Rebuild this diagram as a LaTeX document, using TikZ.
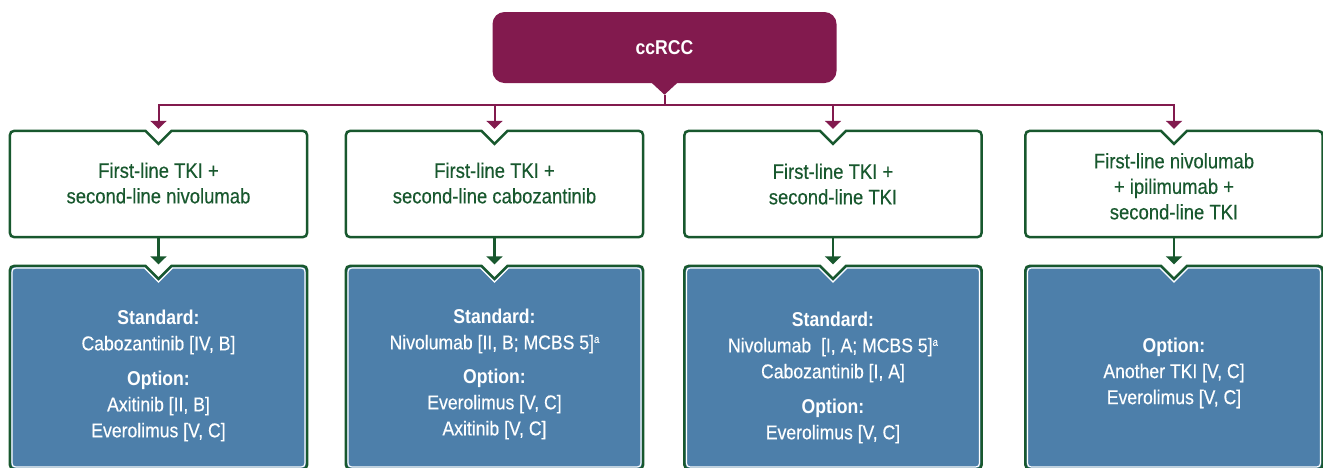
\documentclass[tikz,border=0pt]{standalone}
\usepackage{fontspec}
\setmainfont{Liberation Sans}[FakeStretch=0.88, UprightFeatures={FakeBold=0.35}]
\usetikzlibrary{arrows.meta,calc}
\definecolor{magent}{RGB}{130,26,78}
\definecolor{dgreen}{RGB}{24,88,46}
\definecolor{bfill}{RGB}{77,127,170}

\newcommand\supa{\raisebox{6.5pt}{\fontsize{11}{11}\selectfont a}}

\newcommand\notchbox[4]{%
\draw[#4] let \p1=(#1.north west), \p2=(#1.south east), \p3=(#1.north) in
 ({\x3-(13+0.414*#2)*1pt},{\y1-#2pt})
 -- ({\x1+#2pt+#3pt},{\y1-#2pt})
 .. controls ({\x1+#2pt},{\y1-#2pt}) .. ({\x1+#2pt},{\y1-#2pt-#3pt})
 -- ({\x1+#2pt},{\y2+#2pt+#3pt})
 .. controls ({\x1+#2pt},{\y2+#2pt}) .. ({\x1+#2pt+#3pt},{\y2+#2pt})
 -- ({\x2-#2pt-#3pt},{\y2+#2pt})
 .. controls ({\x2-#2pt},{\y2+#2pt}) .. ({\x2-#2pt},{\y2+#2pt+#3pt})
 -- ({\x2-#2pt},{\y1-#2pt-#3pt})
 .. controls ({\x2-#2pt},{\y1-#2pt}) .. ({\x2-#2pt-#3pt},{\y1-#2pt})
 -- ({\x3+(13+0.414*#2)*1pt},{\y1-#2pt})
 -- (\x3,{\y1-#2pt-(13+0.414*#2)*1pt})
 -- cycle;}

\tikzset{
  rootbox/.style={rectangle, fill=magent, rounded corners=12pt, minimum width=344pt,
    minimum height=71pt, text=white, inner sep=0pt, font=\bfseries\fontsize{20}{24}\selectfont},
  gbox/.style={rectangle, inner sep=0pt, minimum width=297pt, minimum height=106pt},
  bbox/.style={rectangle, inner sep=0pt, minimum width=297pt, minimum height=203pt},
  gline/.style={draw=dgreen, line width=2.5pt, fill=white, line join=miter},
  bline/.style={draw=dgreen, line width=2.5pt, fill=bfill},
  wline/.style={draw=white, line width=1.2pt},
  magarrow/.style={draw=magent, line width=2pt, -{Triangle[width=16pt,length=8pt]}},
  grarrow/.style={draw=dgreen, line width=2.5pt, -{Triangle[width=16pt,length=8pt]}},
  gtext/.style={text=dgreen, align=center, inner sep=0pt, anchor=north,
    font=\fontsize{21}{25.5}\selectfont},
  btext/.style={text=white, align=center, inner sep=0pt, anchor=north,
    font=\fontsize{20}{26}\selectfont},
}

\begin{document}
\begin{tikzpicture}[x=1pt,y=-1pt]
\useasboundingbox (0,0) rectangle (1323,467);

% root
\node[rootbox] (root) at (664.5,47.5) {ccRCC};
\fill[magent] ($(root.south)+(-13.5,-1)$) -- ($(root.south)+(13.5,-1)$) -- ($(root.south)+(0,11.5)$) -- cycle;
\coordinate (tab) at ($(root.south)+(0,11.5)$);
\coordinate (busy) at (0,105);

% green boxes
\node[gbox] (g1) at (158.5,184) {};
\node[gbox] (g2) at (494.5,184) {};
\node[gbox] (g3) at (833,184) {};
\node[gbox] (g4) at (1174,184) {};
\notchbox{g1}{0}{10}{gline}
\notchbox{g2}{0}{10}{gline}
\notchbox{g3}{0}{10}{gline}
\notchbox{g4}{0}{10}{gline}

% blue boxes
\node[bbox] (b1) at (158.5,367.5) {};
\node[bbox] (b2) at (494.5,367.5) {};
\node[bbox] (b3) at (833,367.5) {};
\node[bbox] (b4) at (1174,367.5) {};
\notchbox{b1}{0}{10}{bline}\notchbox{b1}{2.2}{8}{wline}
\notchbox{b2}{0}{10}{bline}\notchbox{b2}{2.2}{8}{wline}
\notchbox{b3}{0}{10}{bline}\notchbox{b3}{2.2}{8}{wline}
\notchbox{b4}{0}{10}{bline}\notchbox{b4}{2.2}{8}{wline}

% connectors from root
\foreach \bx in {g1,g2,g3,g4} {
  \draw[magarrow] (tab) -- (tab |- busy) -| ($(\bx.north)+(0,-2)$);
}
% connectors green -> blue
\draw[grarrow] (g1.south) -- ($(b1.north)+(0,-1.5)$);
\draw[grarrow] (g2.south) -- ($(b2.north)+(0,-1.5)$);
\draw[grarrow] (g3.south) -- ($(b3.north)+(0,-1.5)$);
\draw[grarrow] (g4.south) -- ($(b4.north)+(0,-1.5)$);

% green texts
\node[gtext] (tg1) at (158.5,162.4) {First-line TKI +\\second-line nivolumab};
\node[gtext] (tg2) at (494.5,162.4) {First-line TKI +\\second-line cabozantinib};
\node[gtext] (tg3) at (833,163.4) {First-line TKI +\\second-line TKI};
\node[gtext] (tg4) at (1174,152.9) {First-line nivolumab\\+ ipilimumab +\\second-line TKI};

% blue texts
\node[btext] (tb1) at (158.5,309.6) {\textbf{Standard:}\\Cabozantinib [IV, B]\\[9pt]\textbf{Option:}\\Axitinib [II, B]\\Everolimus [V, C]};
\node[btext] (tb2) at (494.5,308.6) {\textbf{Standard:}\\Nivolumab [II, B; MCBS 5]\supa\\[8pt]\textbf{Option:}\\Everolimus [V, C]\\Axitinib [V, C]};
\node[btext] (tb3) at (833,311.6) {\textbf{Standard:}\\Nivolumab\hspace{5pt} [I, A; MCBS 5]\supa\\Cabozantinib [I, A]\\[9pt]\textbf{Option:}\\Everolimus [V, C]};
\node[btext] (tb4) at (1174,337.4) {\textbf{Option:}\\Another TKI [V, C]\\Everolimus [V, C]};
\end{tikzpicture}
\end{document}
